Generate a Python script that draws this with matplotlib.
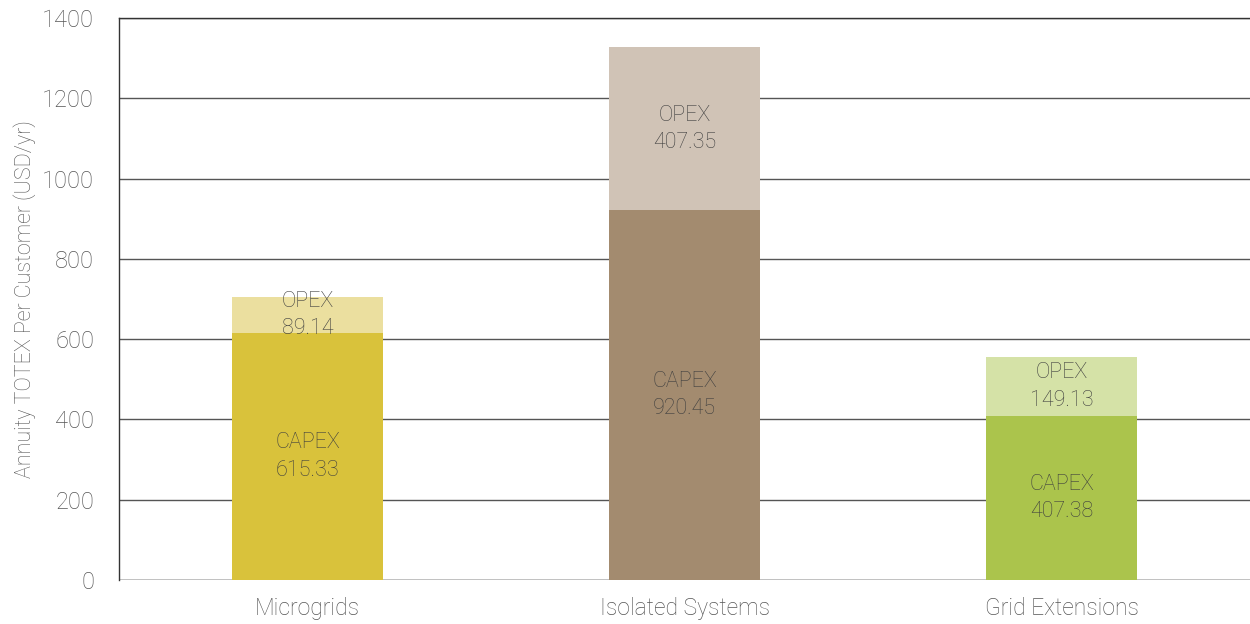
import matplotlib
matplotlib.use("Agg")
import matplotlib.pyplot as plt

# Data
categories = ["Microgrids", "Isolated Systems", "Grid Extensions"]
capex = [615.33, 920.45, 407.38]
opex = [89.14, 407.35, 149.13]
capex_colors = ["#D9C23B", "#A38B6F", "#ABC44C"]
opex_colors = ["#EBDF9F", "#D0C3B6", "#D5E2A7"]

plt.rcParams["font.family"] = ["Roboto", "DejaVu Sans"]
text_color = "#3f3f3f"
tick_color = "#555555"

fig = plt.figure(figsize=(12.5, 6.24), dpi=100)
ax = fig.add_axes([0.0952, 0.0705, 0.9048, 0.9007])

x = range(len(categories))
ax.bar(x, capex, width=0.4, color=capex_colors, zorder=3)
ax.bar(x, opex, width=0.4, bottom=capex, color=opex_colors, zorder=3)

# Segment labels
for i in x:
    ax.text(i, capex[i] / 2, f"CAPEX\n{capex[i]:.2f}", ha="center", va="center",
            fontsize=15.5, color=text_color, fontweight="light", linespacing=1.4, zorder=4)
    ax.text(i, capex[i] + opex[i] / 2, f"OPEX\n{opex[i]:.2f}", ha="center", va="center",
            fontsize=15.5, color=text_color, fontweight="light", linespacing=1.4, zorder=4)

ax.set_xlim(-0.5, 2.5)
ax.set_ylim(0, 1400)
ax.set_yticks(range(0, 1401, 200))
ax.set_xticks(list(x))
ax.set_xticklabels(categories)
ax.yaxis.grid(True, color="#555555", linewidth=1, zorder=0)
ax.tick_params(axis="y", length=0, labelsize=17, labelcolor=tick_color, pad=18)
ax.tick_params(axis="x", length=0, labelsize=16.5, labelcolor=tick_color, pad=12)
for lbl in ax.get_xticklabels() + ax.get_yticklabels():
    lbl.set_fontweight("light")

for side in ["right", "bottom"]:
    ax.spines[side].set_visible(False)
for side in ["left", "top"]:
    ax.spines[side].set_color("#333333")
    ax.spines[side].set_linewidth(1)
ax.axhline(0, color="#555555", linewidth=1, zorder=2)

ax.set_ylabel("Annuity TOTEX Per Customer (USD/yr)", fontsize=15.5, color=tick_color,
              fontweight="light", labelpad=4)

plt.savefig("out.png", dpi=100)
